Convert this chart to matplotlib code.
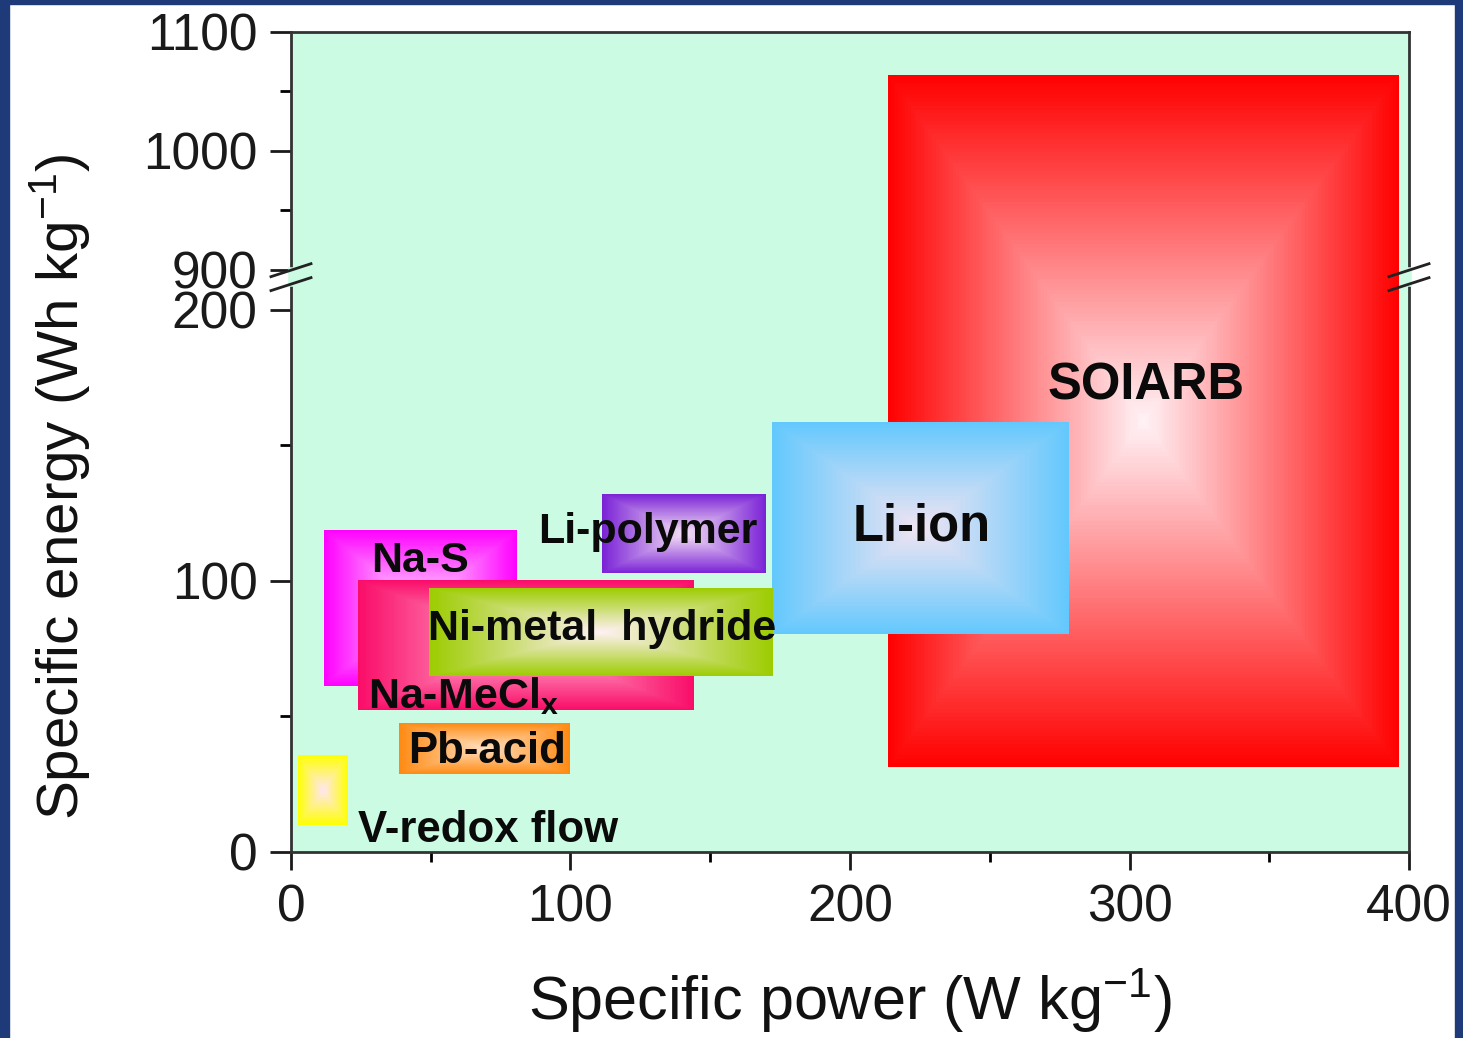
import numpy as np
import matplotlib
matplotlib.use('Agg')
import matplotlib.pyplot as plt
from matplotlib.colors import LinearSegmentedColormap
from matplotlib.patches import Rectangle

plt.rcParams['font.family'] = 'Liberation Sans'
plt.rcParams['mathtext.fontset'] = 'custom'
plt.rcParams['mathtext.rm'] = 'Liberation Sans'
plt.rcParams['mathtext.bf'] = 'Liberation Sans:bold'
plt.rcParams['mathtext.it'] = 'Liberation Sans:italic'

# --- data (W/kg, Wh/kg) ---
names = ['SOIARB', 'Li-ion', 'Li-polymer', 'Na-S', 'Na-MeCl$_{\\mathbf{x}}$',
         'Ni-metal  hydride', 'Pb-acid', 'V-redox flow']
power_lo = [213.6, 172.1, 111.3, 11.8, 24.0, 49.4, 38.6, 2.5]
power_hi = [396.4, 278.4, 170.0, 80.9, 144.2, 172.5, 99.8, 20.4]
energy_lo = [31.4, 80.4, 102.9, 61.3, 52.4, 64.9, 28.8, 10.0]
energy_hi = [1063.9, 158.7, 132.1, 118.8, 100.4, 97.4, 47.6, 35.8]
edge_cols = ['#ff0000', '#62c8fd', '#7a22d6', '#ff00ff', '#fa0c68',
             '#9ccc00', '#ff8a12', '#ffff00']
mid_cols = ['#fff2f6', '#f1e4f2', '#f6e2f6', '#ffe6ff', '#ffc2dc',
            '#fff0f4', '#ffe0c0', '#ffe6f2']

# label anchors (baseline)
lab_x = [305.9, 225.6, 127.5, 46.2, 27.5, 111.4, 70.0, 70.5]
lab_y = [166.8, 115.1, 114.0, 103.3, 53.1, 78.2, 32.8, 3.7]
lab_ha = ['center', 'center', 'center', 'center', 'left', 'center', 'center', 'center']
lab_size = [36.5, 36.5, 31, 31, 31, 31, 31.5, 31.5]

xticks = [0, 100, 200, 300, 400]
xminor = [50, 150, 250, 350]
yticks = [0, 100, 200, 900, 1000, 1100]
yminor = [50, 150, 950, 1050]


# broken y axis: 0-200 and 900-1100 on one axis
def fwd(y):
    y = np.asarray(y, dtype=float)
    return np.where(y <= 200, y,
                    np.where(y >= 900, 214.76 + (y - 900) * 0.4391,
                             200 + (y - 200) * 0.02109))


def inv(s):
    s = np.asarray(s, dtype=float)
    return np.where(s <= 200, s,
                    np.where(s >= 214.76, 900 + (s - 214.76) / 0.4391,
                             200 + (s - 200) / 0.02109))


fig = plt.figure(figsize=(14.63, 10.38), dpi=100)
fig.patch.set_facecolor('white')
ax = fig.add_axes([0.1989, 0.1792, 0.7642, 0.79])
bg = '#cbfbe3'
ax.set_facecolor(bg)
ax.set_yscale('function', functions=(fwd, inv))
ax.set_xlim(0, 400)
ax.set_ylim(0, 1100)


def gradient_box(x0, x1, y0, y1, c_mid, c_edge, z):
    n = 180
    xe = np.linspace(x0, x1, n + 1)
    ye = inv(np.linspace(fwd(y0), fwd(y1), n + 1))
    g = np.linspace(-1, 1, n + 1)
    g = np.abs((g[:-1] + g[1:]) / 2)
    t = np.maximum(g[None, :], g[:, None])
    cmap = LinearSegmentedColormap.from_list('g', [c_mid, c_edge])
    ax.pcolormesh(xe, ye, t, cmap=cmap, vmin=0, vmax=1, shading='flat',
                  antialiased=False, linewidth=0, zorder=z)


for i in range(len(names)):
    gradient_box(power_lo[i], power_hi[i], energy_lo[i], energy_hi[i],
                 mid_cols[i], edge_cols[i], 1 + i * 0.1)

for i in range(len(names)):
    ax.text(lab_x[i], lab_y[i], names[i], ha=lab_ha[i], va='baseline',
            fontsize=lab_size[i], fontweight='bold', color='#0a0a0a', zorder=10)

ax.set_xticks(xticks)
ax.set_xticks(xminor, minor=True)
ax.set_xticklabels([str(v) for v in xticks])
ax.set_yticks(yticks)
ax.set_yticks(yminor, minor=True)
ax.set_yticklabels([str(v) for v in yticks])

ax.tick_params(axis='y', which='major', direction='out', length=15, width=2,
               pad=9, labelsize=37, colors='#1a1a1a', right=False)
ax.tick_params(axis='y', which='minor', direction='out', length=8, width=2,
               right=False)
ax.tick_params(axis='x', which='major', direction='out', length=13, width=2,
               pad=10, labelsize=37, colors='#1a1a1a', top=False)
ax.tick_params(axis='x', which='minor', direction='out', length=7, width=2,
               top=False)

for sp in ax.spines.values():
    sp.set_linewidth(2)
    sp.set_color('#333333')

ax.set_xlabel('Specific power (W kg$^{\\mathregular{-1}}$)', fontsize=44,
              va='center', color='#111111')
ax.xaxis.set_label_coords(0.5, -0.181)
ax.set_ylabel('Specific energy (Wh kg$^{\\mathregular{-1}}$)', fontsize=42,
              va='center', color='#111111')
ax.yaxis.set_label_coords(-0.207, 0.445)

# break marks
bc = 0.701
for xs in (0, 1):
    ax.plot([xs, xs], [bc - 0.0085, bc + 0.0085], color=bg, lw=4,
            transform=ax.transAxes, clip_on=False, zorder=20)
    for off in (0.0085, -0.0085):
        ax.plot([xs - 0.0179, xs + 0.0179], [bc + off - 0.0079, bc + off + 0.0079],
                color='#222222', lw=2, transform=ax.transAxes, clip_on=False,
                zorder=21)

# slide frame
frame = '#1e3a78'
fig.add_artist(Rectangle((0, 0), 9 / 1463, 1, transform=fig.transFigure,
                         color=frame, zorder=0))
fig.add_artist(Rectangle((0, 1 - 4 / 1038), 1, 4 / 1038, transform=fig.transFigure,
                         color=frame, zorder=0))
fig.add_artist(Rectangle((1 - 8 / 1463, 0), 8 / 1463, 1, transform=fig.transFigure,
                         color=frame, zorder=0))

fig.savefig('out.png', dpi=100)
